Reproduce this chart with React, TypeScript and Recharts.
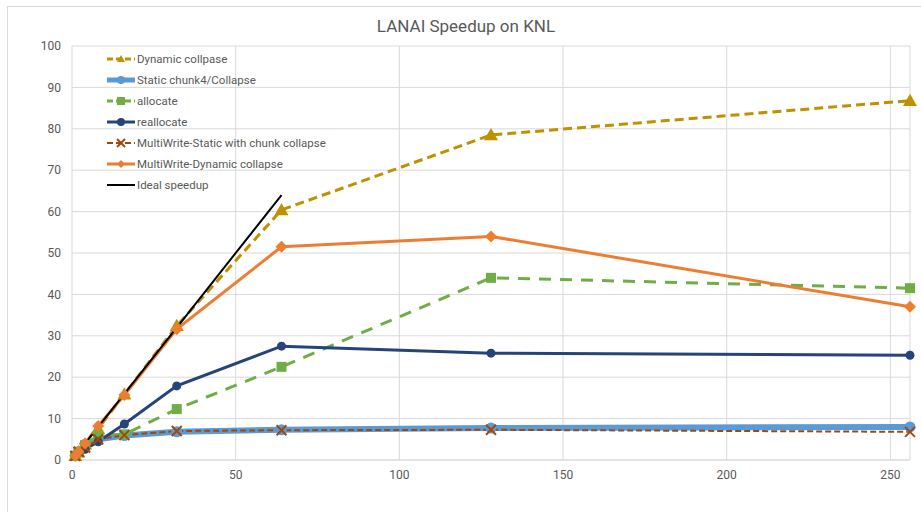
import React from 'react';
import { LineChart, Line, XAxis, YAxis, CartesianGrid } from 'recharts';

const threads = [1, 2, 4, 8, 16, 32, 64, 128, 256];
const dynamicCollapse = [1, 1.9, 3.8, 7.5, 15.9, 32.4, 60.4, 78.5, 86.8];
const staticChunk4 = [1, 2, 3.8, 5, 5.9, 6.8, 7.3, 7.7, 8];
const allocate = [1, 2, 3.6, 6, 6.2, 12.3, 22.5, 44, 41.5];
const reallocate = [1, 1.9, 2.6, 4.4, 8.7, 17.9, 27.5, 25.8, 25.3];
const multiWriteStatic = [1, 2, 3, 5, 6, 7, 7.2, 7.3, 6.8];
const multiWriteDynamic = [1, 2, 4, 8.2, 15.7, 31.6, 51.5, 54, 37];
const idealSpeedup = [1, 2, 4, 8, 16, 32, 64, null, null];

const xTicks = [0, 50, 100, 150, 200, 250];
const yTicks = [0, 10, 20, 30, 40, 50, 60, 70, 80, 90, 100];

type Shape = 'triangle' | 'circle' | 'square' | 'x' | 'diamond' | 'none';

interface SeriesDef {
  key: string;
  name: string;
  values: (number | null)[];
  color: string;
  width: number;
  dash?: string;
  shape: Shape;
  size: number;
}

const SERIES: SeriesDef[] = [
  { key: 'dyn', name: 'Dynamic collpase', values: dynamicCollapse, color: '#BF9000', width: 3, dash: '9 5', shape: 'triangle', size: 7 },
  { key: 'stat', name: 'Static chunk4/Collapse', values: staticChunk4, color: '#5B9BD5', width: 6, shape: 'circle', size: 5.5 },
  { key: 'alloc', name: 'allocate', values: allocate, color: '#70AD47', width: 3, dash: '12 9', shape: 'square', size: 5 },
  { key: 'realloc', name: 'reallocate', values: reallocate, color: '#264478', width: 3, shape: 'circle', size: 4.5 },
  { key: 'mwStat', name: 'MultiWrite-Static with chunk collapse', values: multiWriteStatic, color: '#9E480E', width: 2, dash: '6 3', shape: 'x', size: 5 },
  { key: 'mwDyn', name: 'MultiWrite-Dynamic collapse', values: multiWriteDynamic, color: '#ED7D31', width: 3, shape: 'diamond', size: 6 },
  { key: 'ideal', name: 'Ideal speedup', values: idealSpeedup, color: '#000000', width: 2, shape: 'none', size: 0 },
];

const data = threads.map((t, i) => {
  const row: Record<string, number | null> = { threads: t };
  SERIES.forEach((s) => {
    row[s.key] = s.values[i];
  });
  return row;
});

const FONT = 'Roboto, "Liberation Sans", sans-serif';
const TEXT = '#595959';
const GRID = '#d9d9d9';

function Marker({ shape, cx, cy, size, color }: { shape: Shape; cx: number; cy: number; size: number; color: string }) {
  switch (shape) {
    case 'triangle':
      return (
        <polygon
          points={`${cx},${cy - size} ${cx - size},${cy + size * 0.75} ${cx + size},${cy + size * 0.75}`}
          fill={color}
        />
      );
    case 'circle':
      return <circle cx={cx} cy={cy} r={size} fill={color} />;
    case 'square':
      return <rect x={cx - size} y={cy - size} width={size * 2} height={size * 2} fill={color} />;
    case 'diamond':
      return (
        <polygon
          points={`${cx},${cy - size} ${cx + size},${cy} ${cx},${cy + size} ${cx - size},${cy}`}
          fill={color}
        />
      );
    case 'x':
      return (
        <g stroke={color} strokeWidth={2}>
          <line x1={cx - size} y1={cy - size} x2={cx + size} y2={cy + size} />
          <line x1={cx - size} y1={cy + size} x2={cx + size} y2={cy - size} />
        </g>
      );
    default:
      return null;
  }
}

const makeDot = (s: SeriesDef) => (props: any) => {
  const { cx, cy, index } = props;
  if (cx == null || cy == null || s.shape === 'none') return <g key={`${s.key}-${index}`} />;
  return (
    <g key={`${s.key}-${index}`}>
      <Marker shape={s.shape} cx={cx} cy={cy} size={s.size} color={s.color} />
    </g>
  );
};

function ChartLegend() {
  return (
    <div style={{ position: 'absolute', left: 106, top: 48, fontFamily: FONT, fontSize: 11.5, color: TEXT }}>
      {SERIES.map((s) => (
        <div key={s.key} style={{ display: 'flex', alignItems: 'center', height: 21 }}>
          <svg width={30} height={14} style={{ marginRight: 1 }}>
            <line
              x1={1}
              y1={7}
              x2={29}
              y2={7}
              stroke={s.color}
              strokeWidth={Math.min(s.width, 5)}
              strokeDasharray={s.dash ? '6 3' : undefined}
            />
            <Marker shape={s.shape} cx={15} cy={7} size={Math.min(s.size, 4)} color={s.color} />
          </svg>
          <span>{s.name}</span>
        </div>
      ))}
    </div>
  );
}

export default function App() {
  return (
    <div style={{ position: 'absolute', left: 0, top: 0, width: 921, height: 512, background: '#fff', overflow: 'hidden' }}>
      <div
        style={{
          position: 'absolute',
          left: 7,
          top: 6,
          width: 940,
          height: 540,
          border: `1px solid ${GRID}`,
          boxSizing: 'border-box',
        }}
      />
      <div
        style={{
          position: 'absolute',
          left: 0,
          top: 16,
          width: 932,
          textAlign: 'center',
          fontFamily: FONT,
          fontSize: 17,
          color: TEXT,
        }}
      >
        LANAI Speedup on KNL
      </div>
      <div style={{ position: 'absolute', left: 0, top: 0 }}>
        <LineChart width={921} height={512} data={data} margin={{ top: 46, right: 11, bottom: 22, left: 12 }}>
          <CartesianGrid stroke={GRID} strokeWidth={1} />
          <XAxis
            dataKey="threads"
            type="number"
            domain={[0, 256]}
            ticks={xTicks}
            height={30}
            axisLine={{ stroke: GRID }}
            tickLine={false}
            tickMargin={4}
            tick={{ fill: TEXT, fontSize: 12, fontFamily: FONT }}
          />
          <YAxis
            type="number"
            domain={[0, 100]}
            ticks={yTicks}
            width={60}
            axisLine={false}
            tickLine={false}
            tickMargin={5}
            tick={{ fill: TEXT, fontSize: 12, fontFamily: FONT }}
          />
          {SERIES.map((s) => (
            <Line
              key={s.key}
              dataKey={s.key}
              name={s.name}
              type="linear"
              stroke={s.color}
              strokeWidth={s.width}
              strokeDasharray={s.dash}
              dot={s.shape === 'none' ? false : makeDot(s)}
              activeDot={false}
              isAnimationActive={false}
            />
          ))}
        </LineChart>
      </div>
      <ChartLegend />
    </div>
  );
}
